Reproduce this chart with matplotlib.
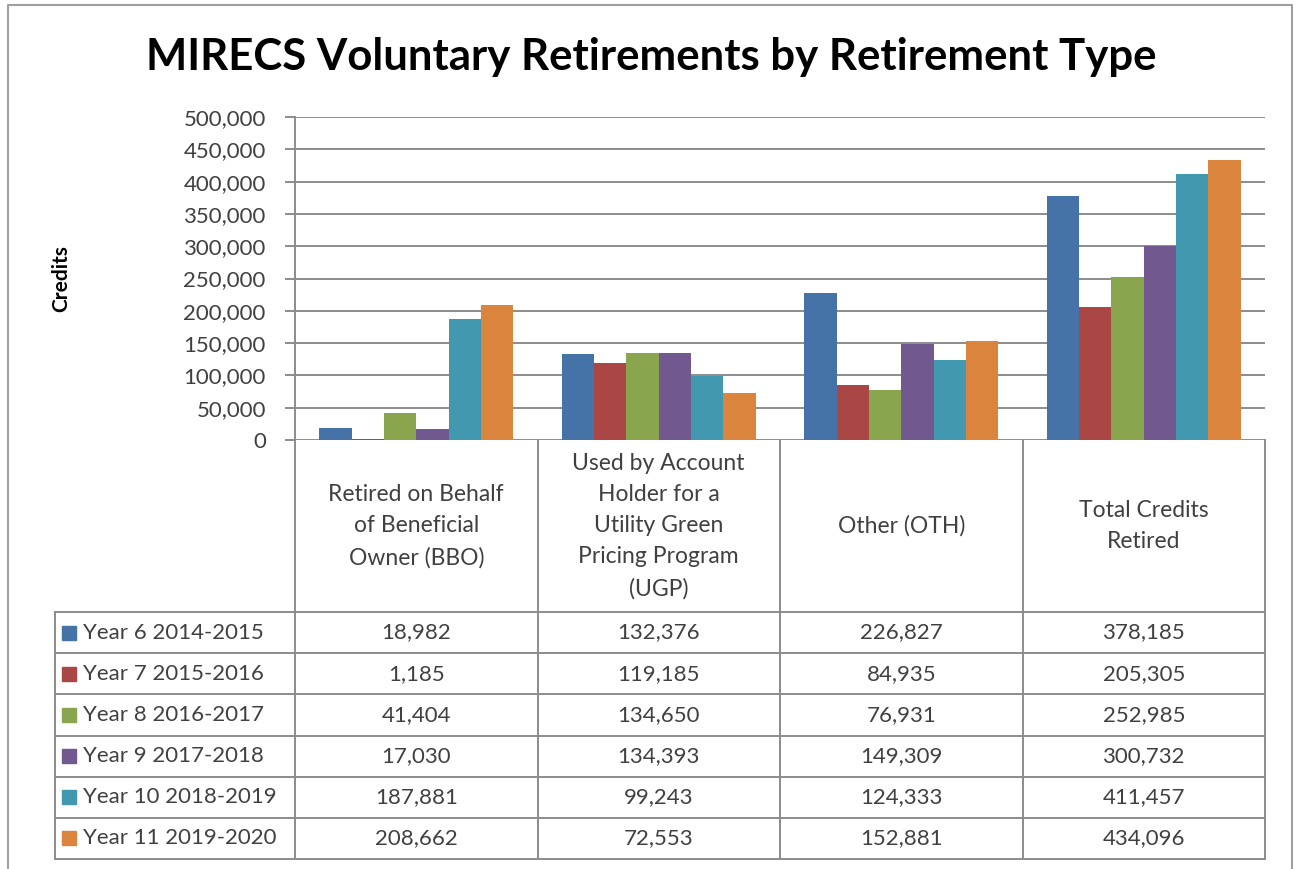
import numpy as np
import matplotlib
matplotlib.use("Agg")
import matplotlib.pyplot as plt
from matplotlib.patches import Rectangle

plt.rcParams['font.family'] = ['Lato', 'DejaVu Sans']

categories = ["Retired on Behalf\nof Beneficial\nOwner (BBO)",
              "Used by Account\nHolder for a\nUtility Green\nPricing Program\n(UGP)",
              "Other (OTH)",
              "Total Credits\nRetired"]
series_names = ["Year 6 2014-2015", "Year 7 2015-2016", "Year 8 2016-2017",
                "Year 9 2017-2018", "Year 10 2018-2019", "Year 11 2019-2020"]
year6 = [18982, 132376, 226827, 378185]
year7 = [1185, 119185, 84935, 205305]
year8 = [41404, 134650, 76931, 252985]
year9 = [17030, 134393, 149309, 300732]
year10 = [187881, 99243, 124333, 411457]
year11 = [208662, 72553, 152881, 434096]
values = [year6, year7, year8, year9, year10, year11]
colors = ["#4572A7", "#AA4643", "#89A54E", "#71588F", "#4198AF", "#DB843D"]
y_ticks = np.arange(0, 500001, 50000)

W, H = 1296, 869
fig = plt.figure(figsize=(W / 100, H / 100), dpi=100)

def px_axes(x0, y0, x1, y1):
    # pixel box (top-left origin) -> figure axes
    return fig.add_axes([x0 / W, 1 - y1 / H, (x1 - x0) / W, (y1 - y0) / H])

grey = "#8c8c8c"
text_col = "#404040"

# outer chart border
border = fig.add_axes([0, 0, 1, 1])
border.set_xlim(0, W)
border.set_ylim(H, 0)
border.axis("off")
border.plot([8, 8, 1292, 1292], [H + 5, 5, 5, H + 5], color="#a0a0a0", lw=1.5)

fig.text(651 / W, 1 - 57 / H, "MIRECS Voluntary Retirements by Retirement Type",
         ha="center", va="center", fontsize=31.5, fontweight="bold", color="black")

# bar area
ax = px_axes(295, 117, 1265, 440)
n = len(values)
x = np.arange(len(categories))
bw = 0.8 / n
for i, (vals, c) in enumerate(zip(values, colors)):
    ax.bar(x - 0.4 + bw * (i + 0.5), vals, width=bw, color=c, zorder=3)
ax.set_xlim(-0.5, len(categories) - 0.5)
ax.set_ylim(0, 500000)
ax.set_yticks(y_ticks)
ax.set_yticklabels([f"{v:,}" for v in y_ticks], fontsize=16, color=text_col)
ax.set_xticks([])
ax.grid(axis="y", color=grey, lw=1.4, zorder=0)
for s in ["top", "right", "bottom"]:
    ax.spines[s].set_visible(False)
ax.spines["left"].set_color(grey)
ax.spines["left"].set_linewidth(1.4)
ax.tick_params(axis="y", direction="out", length=7, width=1.4, color=grey, pad=14)
ax.set_ylabel("Credits", fontsize=15, fontweight="bold")
ax.yaxis.set_label_coords((71 - 295) / 970, 0.5)

# data table below the bars, sharing the x scale of the bar area
px_per_unit = (1265 - 295) / len(categories)
left_edge = -0.5 - (295 - 55) / px_per_unit
tab = px_axes(55, 440, 1265, 859)
tab.set_xlim(left_edge, len(categories) - 0.5)
header_h = 172
row_h = (859 - 440 - header_h) / n
tab.set_ylim(header_h + n * row_h, 0)
tab.axis("off")
edges = np.arange(len(categories) + 1) - 0.5
lw = 1.4
for e in edges:
    tab.plot([e, e], [0, header_h + n * row_h], color=grey, lw=lw, clip_on=False)
tab.plot([left_edge, left_edge], [header_h, header_h + n * row_h], color=grey, lw=lw, clip_on=False)
for r in range(n + 1):
    yy = header_h + r * row_h
    tab.plot([left_edge, edges[-1]], [yy, yy], color=grey, lw=lw, clip_on=False)

for j, cat in enumerate(categories):
    tab.text(x[j], header_h / 2, cat, ha="center", va="center", fontsize=16.5,
             color=text_col, linespacing=1.6)

mk = 14 / px_per_unit
for i, (name, vals, c) in enumerate(zip(series_names, values, colors)):
    yc = header_h + (i + 0.5) * row_h
    tab.add_patch(Rectangle((left_edge + 7 / px_per_unit, yc - 7), mk, 14,
                            color=c, clip_on=False))
    tab.text(left_edge + 28 / px_per_unit, yc, name, ha="left", va="center",
             fontsize=16, color=text_col)
    for j, v in enumerate(vals):
        tab.text(x[j], yc, f"{v:,}", ha="center", va="center", fontsize=16,
                 color=text_col)

fig.savefig("out.png", dpi=100)
